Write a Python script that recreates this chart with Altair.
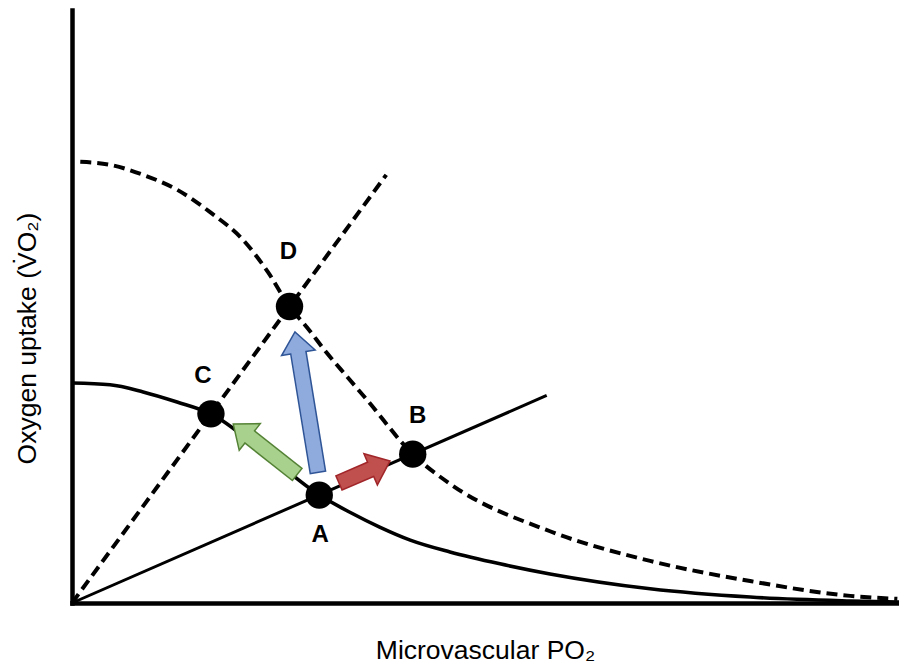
import math
import altair as alt
import pandas as pd

# Fick principle (convective O2 delivery) curves: baseline (solid) and raised flow (dashed)
conv_base_x = [0, 4.6, 8.6, 12.7, 16.8, 23.3, 29.9, 33.6, 37.2, 40.9, 45.7, 51.75, 57.8, 69.9, 82.0, 94.1, 100]
conv_base_y = [37.1, 36.8, 35.6, 33.9, 31.9, 25.3, 18.2, 15.3, 12.8, 10.6, 8.6, 6.6, 4.9, 2.4, 1.0, 0.35, 0.15]
conv_high_x = [1.0, 4.6, 8.6, 12.7, 16.7, 20.7, 23.7, 26.3, 28.4, 30.8, 33.3, 35.7, 41.2, 45.7, 57.8, 69.9, 82.0, 94.1, 99.8]
conv_high_y = [74.4, 73.9, 72.2, 69.7, 65.9, 61.2, 55.8, 50.0, 46.5, 42.2, 38.1, 34.2, 25.1, 20.1, 12.1, 7.1, 3.7, 1.2, 0.7]

# Fick's law of diffusion lines from the origin: baseline (solid) and raised conductance (dashed)
diff_base_x = [0, 57.4]
diff_base_y = [0, 35.0]
diff_high_x = [0, 38.0]
diff_high_y = [0, 72.2]

# Operating points
pt_names = ["A", "B", "C", "D"]
pt_x = [29.9, 41.2, 16.8, 26.3]
pt_y = [18.2, 25.1, 31.9, 50.0]

# Arrows (tail -> tip)
arrow_tail_x = [32.2, 27.3, 29.75]
arrow_tail_y = [20.2, 21.6, 21.9]
arrow_tip_x = [38.45, 19.5, 26.96]
arrow_tip_y = [23.95, 30.2, 45.7]
arrow_fill = ["#C0504D", "#A9D18E", "#8FAADC"]
arrow_edge = ["#A1262A", "#548235", "#2F5597"]

W, H = 827, 593
XMAX, YMAX = 100, 100
sx, sy = W / XMAX, H / YMAX

FONT = "Liberation Sans"
x_scale = alt.Scale(domain=[0, XMAX], nice=False, zero=False)
y_scale = alt.Scale(domain=[0, YMAX], nice=False, zero=False)
x_axis = alt.Axis(
    title="Microvascular PO₂", domain=True, domainColor="black", domainWidth=4.5,
    domainCap="square", ticks=False, labels=False, grid=False,
    titleFont=FONT, titleFontSize=26.5, titleFontWeight="normal", titleColor="black",
    titleX=413, titleY=55, titleAlign="center", titleBaseline="alphabetic",
)
y_axis = alt.Axis(
    title="Oxygen uptake (V̇O₂)", domain=True, domainColor="black", domainWidth=4.5,
    domainCap="square", ticks=False, labels=False, grid=False,
    titleFont=FONT, titleFontSize=26.5, titleFontWeight="normal", titleColor="black",
    titleX=-45, titleY=328, titleAlign="center", titleBaseline="middle", titleAngle=-90,
)


def X(field):
    return alt.X(field, type="quantitative", scale=x_scale, axis=x_axis)


def Y(field):
    return alt.Y(field, type="quantitative", scale=y_scale, axis=y_axis)


def curve(xs, ys, dashed, width):
    df = pd.DataFrame({"x": xs, "y": ys, "i": range(len(xs))})
    kw = dict(color="black", strokeWidth=width, interpolate="monotone", strokeCap="butt")
    if dashed:
        kw["strokeDash"] = [11, 6]
    return alt.Chart(df).mark_line(**kw).encode(x=X("x"), y=Y("y"), order="i:Q")


layers = [
    curve(conv_base_x, conv_base_y, False, 3.6),
    curve(conv_high_x, conv_high_y, True, 4),
    curve(diff_base_x, diff_base_y, False, 3),
    curve(diff_high_x, diff_high_y, True, 4),
]

# Block arrows: outlined shaft plus a triangular head
HEAD_LEN, SHAFT_W, EDGE_W, HEAD_W = 21, 17, 1.5, 34
HEAD_PATH = "M-1,0.62L1,0.62L0,-0.62Z"
for tx, ty, hx, hy, fill, edge in zip(arrow_tail_x, arrow_tail_y, arrow_tip_x, arrow_tip_y,
                                      arrow_fill, arrow_edge):
    dxp, dyp = (hx - tx) * sx, (hy - ty) * sy
    L = math.hypot(dxp, dyp)
    ux, uy = dxp / L, dyp / L

    def at(dist):
        return tx + ux * dist / sx, ty + uy * dist / sy

    bx, by = at(L - HEAD_LEN + 1)
    cx, cy = at(L - HEAD_LEN / 2)
    ex, ey = at(L - HEAD_LEN + 3)
    sx0, sy0 = at(EDGE_W)
    angle = math.degrees(math.atan2(ux, uy)) % 360

    outer = pd.DataFrame({"x": [tx], "y": [ty], "x2": [bx], "y2": [by]})
    inner = pd.DataFrame({"x": [sx0], "y": [sy0], "x2": [ex], "y2": [ey]})
    head = pd.DataFrame({"x": [cx], "y": [cy]})
    layers.append(alt.Chart(outer).mark_rule(color=edge, strokeWidth=SHAFT_W, strokeCap="butt")
                  .encode(x=X("x"), y=Y("y"), x2="x2:Q", y2="y2:Q"))
    layers.append(alt.Chart(head).mark_point(shape=HEAD_PATH, size=HEAD_W ** 2, filled=True,
                                             fill=fill, stroke=edge, strokeWidth=EDGE_W,
                                             opacity=1, fillOpacity=1, strokeOpacity=1)
                  .encode(x=X("x"), y=Y("y"), angle=alt.value(angle)))
    layers.append(alt.Chart(inner).mark_rule(color=fill, strokeWidth=SHAFT_W - 2 * EDGE_W,
                                             strokeCap="butt")
                  .encode(x=X("x"), y=Y("y"), x2="x2:Q", y2="y2:Q"))

pts = pd.DataFrame({"name": pt_names, "x": pt_x, "y": pt_y})
layers.append(alt.Chart(pts).mark_circle(size=750, color="black", opacity=1)
              .encode(x=X("x"), y=Y("y")))

# Letter labels, offset from their points
label_offsets = {"A": (1, 40), "B": (5, -38), "C": (-8, -38), "D": (-1, -55)}
for name, (ddx, ddy) in label_offsets.items():
    layers.append(
        alt.Chart(pts[pts["name"] == name]).mark_text(
            font=FONT, fontSize=24, fontWeight="bold", color="black",
            align="center", baseline="middle", dx=ddx, dy=ddy,
        ).encode(x=X("x"), y=Y("y"), text="name:N")
    )

chart = (
    alt.layer(*layers)
    .properties(width=W, height=H,
                padding={"left": 72, "top": 10, "right": 0, "bottom": 65},
                autosize=alt.AutoSizeParams(type="none"), background="white")
    .configure_view(stroke=None)
)

chart.save("out.html", embed_options={"renderer": "svg", "actions": False})
